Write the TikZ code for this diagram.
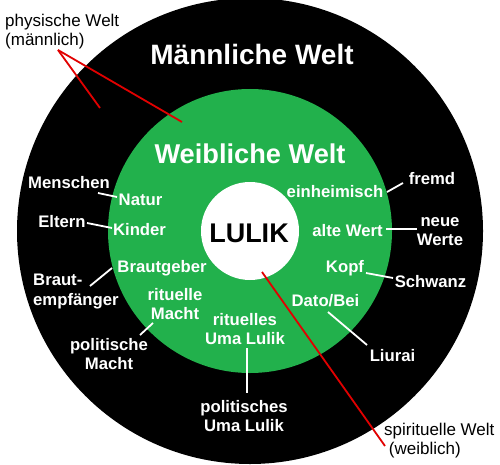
\documentclass[tikz,border=0pt]{standalone}
\usepackage{fontspec}
\setmainfont{Liberation Sans}
\definecolor{wgreen}{RGB}{34,177,76}
\definecolor{wred}{RGB}{225,0,0}
\begin{document}
\begin{tikzpicture}[x=1pt,y=-1pt,
  lbl/.style={text=white, font=\fontsize{16.7}{19.5}\selectfont\bfseries, inner sep=0pt, anchor=base, align=center},
  note/.style={text=black, font=\fontsize{17}{19}\selectfont, inner sep=0pt, anchor=base west, align=left},
  title/.style={text=white, inner sep=0pt, anchor=base},
  conn/.style={white, line width=1.8pt},
  redl/.style={wred, line width=1.8pt}]
\useasboundingbox (0,0) rectangle (500,465);
\fill[black] (250,231) circle (233pt);
\fill[wgreen] (250,231) circle (142pt);
\node[circle, fill=white, minimum size=98pt, inner sep=0pt] (core) at (250,231) {};
\node[anchor=base, inner sep=0pt, font=\fontsize{27}{30}\selectfont\bfseries] (lulik) at (249,242) {LULIK};

\node[title, font=\fontsize{28}{30}\selectfont\bfseries] (mw) at (252,65) {Männliche Welt};
\node[title, font=\fontsize{27.2}{30}\selectfont\bfseries] (ww) at (250,163.5) {Weibliche Welt};

% multi-line nodes: base anchor = baseline of last line
\node[note] (phys) at (5,46) {physische Welt\\(männlich)};
\coordinate (p1) at (100,108);
\coordinate (p2) at (182,122);
\draw[redl] ([shift={(53,4)}]phys.base west) -- (p1);
\draw[redl] ([shift={(53,4)}]phys.base west) -- (p2);

\node[note] (spir) at (384,454) {spirituelle Welt\\\ (weiblich)};
\coordinate (s1) at (262,272);
\draw[redl] (s1) -- ([shift={(1,-8)}]spir.base west);

\node[lbl] (men) at (69,188.5) {Menschen};
\node[lbl] (natur) at (140.5,205) {Natur};
\node[lbl] (eltern) at (62,227) {Eltern};
\node[lbl] (kinder) at (139.5,235) {Kinder};
\node[lbl] (brg) at (162,272) {Brautgeber};
\node[lbl, anchor=base west, align=left] (bre) at (33,305) {Braut-\\empfänger};
\node[lbl] (ritm) at (175,319.5) {rituelle\\Macht};
\node[lbl] (polm) at (109,369.5) {politische\\Macht};
\node[lbl] (ritu) at (245,344.5) {rituelles\\Uma Lulik};
\node[lbl] (polu) at (244,431.5) {politisches\\Uma Lulik};
\node[lbl] (einh) at (335,197) {einheimisch};
\node[lbl] (fremd) at (432,185) {fremd};
\node[lbl] (alte) at (347.5,236) {alte Wert};
\node[lbl] (neue) at (440,245.5) {neue\\Werte};
\node[lbl] (kopf) at (345,272) {Kopf};
\node[lbl] (schw) at (430.5,287) {Schwanz};
\node[lbl] (dato) at (325.5,306) {Dato/Bei};
\node[lbl] (liurai) at (392.5,361) {Liurai};

\draw[conn] ([shift={(29,4.5)}]men.base) -- ([shift={(-23.5,-8)}]natur.base);
\draw[conn] ([shift={(25,-4)}]eltern.base) -- ([shift={(-27.5,-7)}]kinder.base);
\draw[conn] ([shift={(57,-19)}]bre.base west) -- ([shift={(-50,-4)}]brg.base);
\draw[conn] ([shift={(31,-34.5)}]polm.base) -- ([shift={(-22,3.5)}]ritm.base);
\draw[conn] ([shift={(2,3.5)}]ritu.base) -- ([shift={(3,-38.5)}]polu.base);
\draw[conn] ([shift={(52,-5)}]einh.base) -- ([shift={(-29,-2)}]fremd.base);
\draw[conn] ([shift={(38.5,-7)}]alte.base) -- ([shift={(-23,-16.5)}]neue.base);
\draw[conn] ([shift={(21,1)}]kopf.base) -- ([shift={(-37.5,-9)}]schw.base);
\draw[conn] ([shift={(2.5,6)}]dato.base) -- ([shift={(-25.5,-16)}]liurai.base);
\end{tikzpicture}
\end{document}
